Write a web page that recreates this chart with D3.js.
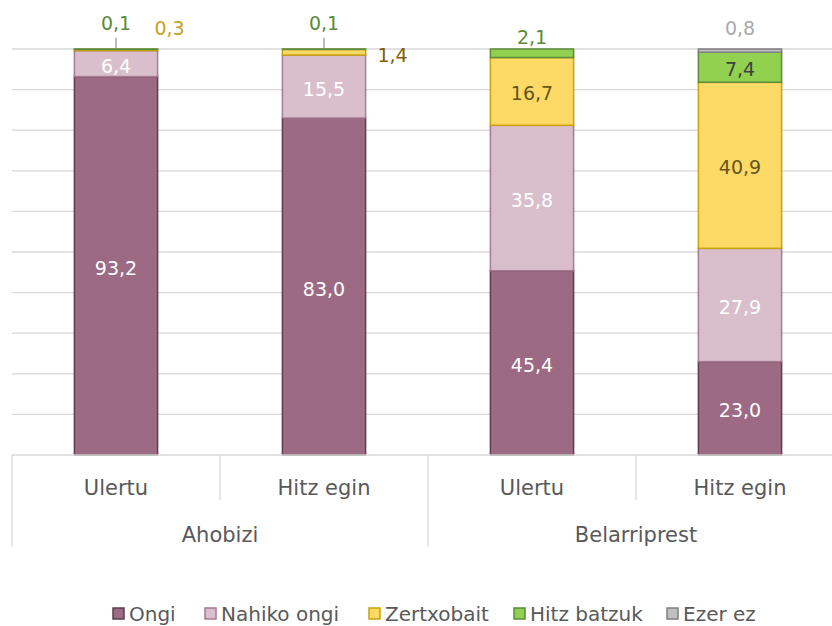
<!DOCTYPE html>
<html>
<head>
<meta charset="utf-8">
<script src="https://cdn.jsdelivr.net/npm/d3@7"></script>
<style>
body { margin: 0; background: #fff; }
text { font-family: "DejaVu Sans ExtraLight", "DejaVu Sans", sans-serif; }
</style>
</head>
<body>
<script>
// categories
var groups = ["Ahobizi", "Belarriprest"];
var subCats = ["Ulertu", "Hitz egin"];
var seriesNames = ["Ongi", "Nahiko ongi", "Zertxobait", "Hitz batzuk", "Ezer ez"];

// series values (percent), order: Ahobizi Ulertu, Ahobizi Hitz egin, Belarriprest Ulertu, Belarriprest Hitz egin
var ongi = [93.2, 83.0, 45.4, 23.0];
var nahikoOngi = [6.4, 15.5, 35.8, 27.9];
var zertxobait = [0.3, 1.4, 16.7, 40.9];
var hitzBatzuk = [0.1, 0.1, 2.1, 7.4];
var ezerEz = [0, 0, 0, 0.8];

var yTicks = [0, 10, 20, 30, 40, 50, 60, 70, 80, 90, 100];

var fills = ["#9c6a82", "#d9bfcc", "#fdd966", "#92d050", "#bfbfbf"];
var strokes = ["#5e3c4e", "#a77a92", "#c9a20a", "#5b8a38", "#7f7f7f"];
var labelCol = ["#ffffff", "#ffffff", "#665520", "#404040", "#aaaaaa"];

var W = 832, H = 626;
var svg = d3.select("body").append("svg").attr("width", W).attr("height", H);

var x0 = 12, bandW = 208;
var cats = [];
groups.forEach(function(g) { subCats.forEach(function(s) { cats.push(g + "|" + s); }); });

var x = d3.scaleBand().domain(cats).range([x0, x0 + bandW * cats.length]).paddingInner(0.6).paddingOuter(0.3);
var y = d3.scaleLinear().domain([0, 100]).range([455, 49]);

// gridlines
svg.append("g").selectAll("line").data(yTicks.slice(1)).enter().append("line")
    .attr("x1", x0).attr("x2", W)
    .attr("y1", function(d) { return y(d); }).attr("y2", function(d) { return y(d); })
    .attr("stroke", "#d9d9d9").attr("stroke-width", 1.3);

// stacked data
var table = cats.map(function(c, i) {
    return { cat: c, "Ongi": ongi[i], "Nahiko ongi": nahikoOngi[i], "Zertxobait": zertxobait[i], "Hitz batzuk": hitzBatzuk[i], "Ezer ez": ezerEz[i] };
});
var stack = d3.stack().keys(seriesNames)(table);

var fmt = function(v) { return d3.format(".1f")(v).replace(".", ","); };

stack.forEach(function(layer, si) {
    svg.append("g").selectAll("rect").data(layer.filter(function(d) { return d[1] - d[0] > 0; })).enter().append("rect")
        .attr("x", function(d) { return x(d.data.cat); })
        .attr("width", x.bandwidth())
        .attr("y", function(d) { return y(d[1]); })
        .attr("height", function(d) { return y(d[0]) - y(d[1]); })
        .attr("fill", fills[si])
        .attr("stroke", strokes[si])
        .attr("stroke-width", 1.5);
});

// baseline
svg.append("line").attr("x1", x0).attr("x2", W).attr("y1", y(0)).attr("y2", y(0))
    .attr("stroke", "#d9d9d9").attr("stroke-width", 1.3);

// data labels
var labels = svg.append("g").attr("font-size", 19).attr("text-anchor", "middle");
stack.forEach(function(layer, si) {
    layer.forEach(function(d, ci) {
        var v = d[1] - d[0];
        if (v <= 0) return;
        var cx = x(d.data.cat) + x.bandwidth() / 2;
        var right = x(d.data.cat) + x.bandwidth();
        var h = y(d[0]) - y(d[1]);
        var lx = cx, ly = (y(d[0]) + y(d[1])) / 2 + 9, col = labelCol[si];
        if (h < 14) {
            // small segments: labels outside the bar
            if (si === 3 && ci < 2) {
                ly = y(100) - 19; col = "#5b8a38";
                labels.append("line").attr("x1", cx).attr("x2", cx)
                    .attr("y1", y(100) - 11).attr("y2", y(100) - 1)
                    .attr("stroke", "#a6a6a6").attr("stroke-width", 1.5);
            } else if (si === 2 && ci === 0) {
                lx = right + 12; ly = y(100) - 14; col = "#c9a020";
            } else if (si === 2 && ci === 1) {
                lx = right + 27; ly = y(100) + 13; col = "#7f6000";
            } else if (si === 3) {
                ly = y(100) - 5; col = "#5b8a38";
            } else if (si === 4) {
                ly = y(100) - 14; col = "#aaaaaa";
            }
        }
        labels.append("text").attr("x", lx).attr("y", ly).attr("fill", col).text(fmt(v));
    });
});

// category axis
var axis = svg.append("g").attr("font-size", 21).attr("fill", "#595959").attr("text-anchor", "middle");
cats.forEach(function(c, i) {
    var left = x0 + bandW * i;
    var isGroupEdge = i % subCats.length === 0;
    axis.append("line").attr("x1", left).attr("x2", left).attr("y1", y(0))
        .attr("y2", isGroupEdge ? 547 : 500).attr("stroke", "#d9d9d9").attr("stroke-width", 1.3);
    axis.append("text").attr("x", x(c) + x.bandwidth() / 2).attr("y", 495).text(c.split("|")[1]);
});
groups.forEach(function(g, gi) {
    var left = x0 + bandW * subCats.length * gi;
    axis.append("text").attr("x", left + bandW * subCats.length / 2).attr("y", 542).text(g);
});

// legend
var legendX = [113, 205, 369, 514, 667];
var legend = svg.append("g").attr("font-size", 20).attr("fill", "#595959");
seriesNames.forEach(function(n, i) {
    legend.append("rect").attr("x", legendX[i]).attr("y", 608).attr("width", 11).attr("height", 11)
        .attr("fill", fills[i]).attr("stroke", strokes[i]).attr("stroke-width", 1.5);
    legend.append("text").attr("x", legendX[i] + 16).attr("y", 621).text(n);
});
</script>
</body>
</html>
